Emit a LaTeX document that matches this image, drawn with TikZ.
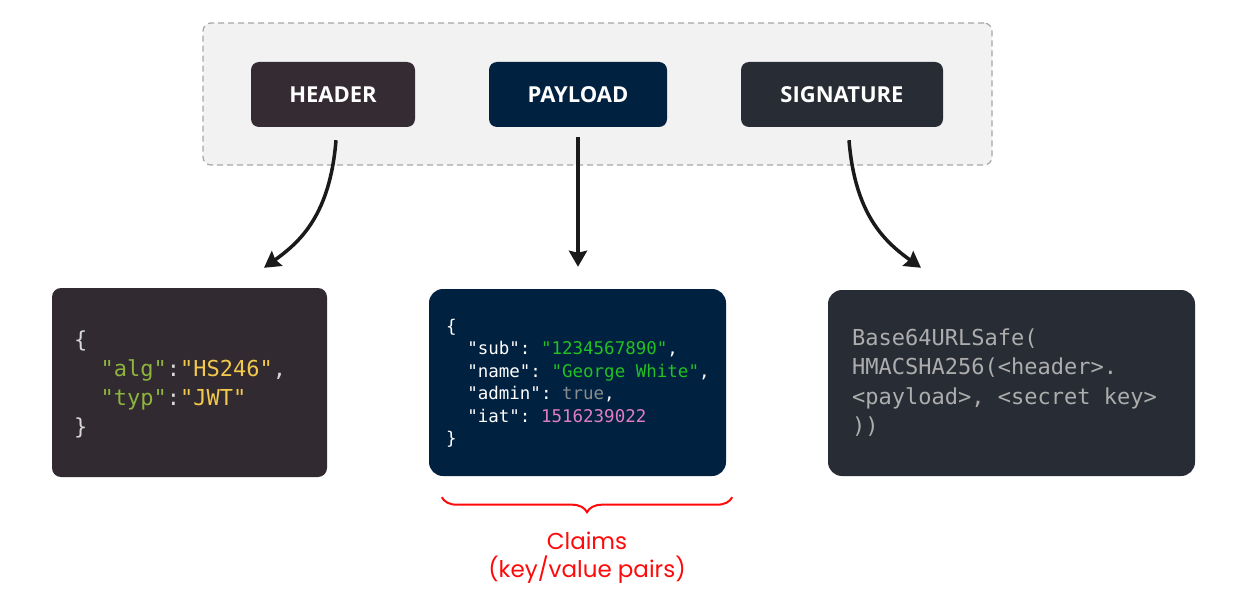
\documentclass[tikz,border=0pt]{standalone}
\usepackage{fontspec}
\setmainfont{Open Sans}
\newfontfamily\codefont{DejaVu Sans Mono}
\newfontfamily\popfont{Poppins}
\usetikzlibrary{arrows.meta,decorations.pathreplacing,calc}
\definecolor{contfill}{HTML}{F2F2F2}
\definecolor{contline}{HTML}{A6A6A6}
\definecolor{hdrfill}{HTML}{352B32}
\definecolor{hjfill}{HTML}{312A30}
\definecolor{payfill}{HTML}{00213F}
\definecolor{sigfill}{HTML}{282C34}
\definecolor{arrowc}{HTML}{1A1A1A}
\definecolor{hkey}{HTML}{8DB43E}
\definecolor{hval}{HTML}{F2C94C}
\definecolor{hpun}{HTML}{D8D8D8}
\definecolor{pstr}{HTML}{22C022}
\definecolor{pbool}{HTML}{8C8C8C}
\definecolor{pnum}{HTML}{E07EC4}
\definecolor{sigtxt}{HTML}{ADADAD}
\definecolor{claimred}{HTML}{FF0A0A}
\frenchspacing
\begin{document}
\begin{tikzpicture}[x=1pt,y=-1pt,
  topbox/.style={rounded corners=8pt, minimum height=65pt, inner sep=0pt,
    text=white, font=\fontsize{22}{26}\selectfont\bfseries},
  codebox/.style={rounded corners=14pt, inner sep=0pt},
  hline/.style={anchor=base west, inner sep=0pt, font=\codefont\fontsize{22}{26}\selectfont},
  pline/.style={anchor=base west, inner sep=0pt, font=\codefont\fontsize{17.5}{21}\selectfont, text=white},
  sline/.style={anchor=base west, inner sep=0pt, font=\codefont\fontsize{22}{26}\selectfont, text=sigtxt},
  conn/.style={draw=arrowc, line width=3.5pt, -{Stealth[length=16pt,width=18pt,inset=2pt]}},
  claim/.style={text=claimred, font=\popfont\fontsize{23}{27}\selectfont, inner sep=0pt, anchor=base}
]
\useasboundingbox[fill=white] (0,0) rectangle (1243,591);

% container
\node[draw=contline, fill=contfill, dash pattern=on 6pt off 4pt, line width=1.2pt,
  rounded corners=8pt, minimum width=789pt, minimum height=142pt, inner sep=0pt]
  (cont) at (597.5,94) {};

% top boxes
\node[topbox, fill=hdrfill, minimum width=164pt] (hdr) at (333,94.5) {\raisebox{-1.5pt}{HEADER}};
\node[topbox, fill=payfill, minimum width=178pt] (pay) at (578,94.5) {\raisebox{-1.5pt}{PAYLOAD}};
\node[topbox, fill=sigfill, minimum width=202pt] (sig) at (842,94.5) {\raisebox{-1.5pt}{SIGNATURE}};

% code boxes
\node[codebox, rounded corners=9pt, fill=hjfill, minimum width=275pt, minimum height=189pt] (hjson) at (189.5,382.5) {};
\node[codebox, fill=payfill, minimum width=297pt, minimum height=187pt] (pjson) at (577.5,382.5) {};
\node[codebox, fill=sigfill, minimum width=367pt, minimum height=186pt] (sjson) at (1011.5,383) {};

% header code
\node[hline, text=hpun] (h1) at (74,347) {\{};
\node[hline] (h2) at (74,376) {\phantom{xx}\textcolor{hkey}{"alg"}\textcolor{hpun}{:}\textcolor{hval}{"HS246"}\textcolor{hpun}{,}};
\node[hline] (h3) at (74,405) {\phantom{xx}\textcolor{hkey}{"typ"}\textcolor{hpun}{:}\textcolor{hval}{"JWT"}};
\node[hline, text=hpun] (h4) at (74,434) {\}};

% payload code
\node[pline] (p1) at (446,332) {\{};
\node[pline] (p2) at (446,354.5) {\phantom{xx}"sub": \textcolor{pstr}{"1234567890"},};
\node[pline] (p3) at (446,377) {\phantom{xx}"name": \textcolor{pstr}{"George White"},};
\node[pline] (p4) at (446,399.5) {\phantom{xx}"admin": \textcolor{pbool}{true},};
\node[pline] (p5) at (446,422) {\phantom{xx}"iat": \textcolor{pnum}{1516239022}};
\node[pline] (p6) at (446,444) {\}};

% signature code
\node[sline] (s1) at (852,345) {Base64URLSafe(};
\node[sline] (s2) at (852,374.5) {HMACSHA256(<header>.};
\node[sline] (s3) at (852,404) {<payload>, <secret key>};
\node[sline] (s4) at (852,433) {))};

% connectors
\draw[conn] ($(hdr.south)+(3,13)$) .. controls (330,215) and (300,242) .. ($(hjson.north)+(74.5,-20)$);
\draw[conn] ($(pay.south)+(0,10)$) -- ($(pjson.north)+(0.5,-22)$);
\draw[conn] ($(sig.south)+(7,13)$) .. controls (855,215) and (885,242) .. ($(sjson.north)+(-90.5,-22)$);

% brace
\draw[claimred, line width=2pt, decorate, decoration={brace, mirror, amplitude=15pt}]
  ($(pjson.south west)+(13,21)$) -- ($(pjson.south east)+(6,21)$);
\node[claim] (c1) at (587,549) {Claims};
\node[claim] (c2) at (587,577) {(key/value pairs)};
\end{tikzpicture}
\end{document}
